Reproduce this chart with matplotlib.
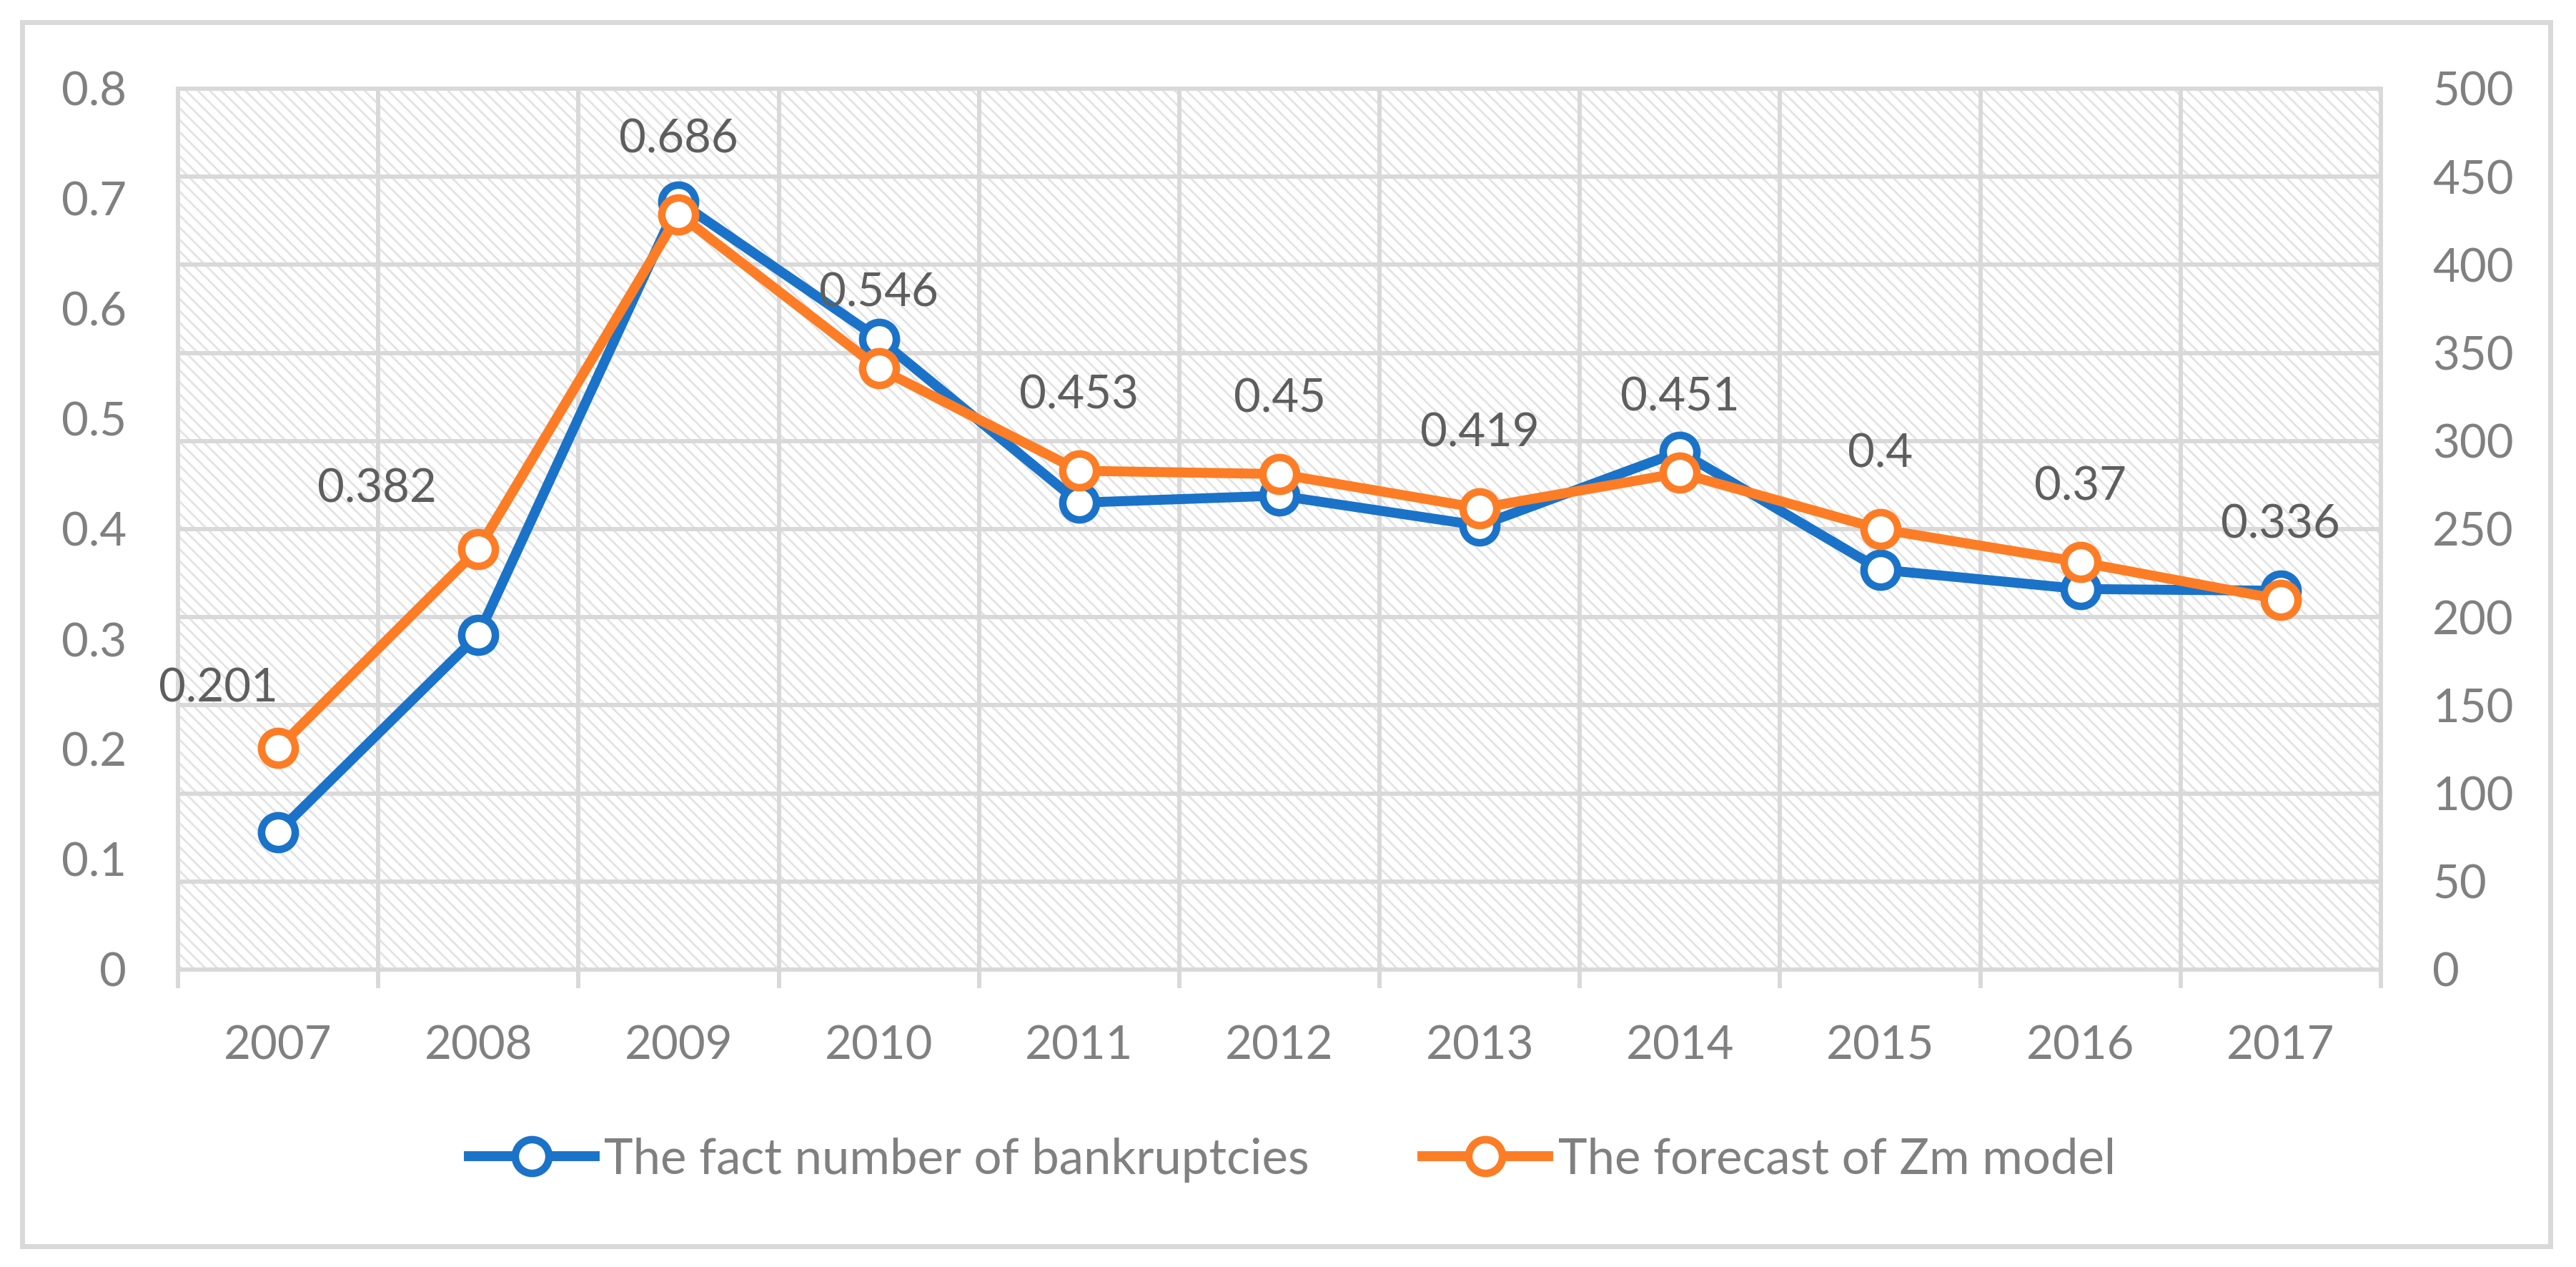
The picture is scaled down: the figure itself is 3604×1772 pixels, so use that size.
import numpy as np
import matplotlib
matplotlib.use("Agg")
import matplotlib.pyplot as plt
from matplotlib.patches import Rectangle

# ---- data ----
years = ["2007", "2008", "2009", "2010", "2011", "2012", "2013", "2014", "2015", "2016", "2017"]
fact_bankruptcies = [78, 190, 436, 358, 265, 269, 252, 294, 227, 216, 215]
forecast_zm = [0.201, 0.382, 0.686, 0.546, 0.453, 0.45, 0.419, 0.451, 0.4, 0.37, 0.336]
forecast_labels = ["0.201", "0.382", "0.686", "0.546", "0.453", "0.45", "0.419", "0.451", "0.4", "0.37", "0.336"]
left_ticks = [0, 0.1, 0.2, 0.3, 0.4, 0.5, 0.6, 0.7, 0.8]
left_tick_labels = ["0", "0.1", "0.2", "0.3", "0.4", "0.5", "0.6", "0.7", "0.8"]
right_ticks = [0, 50, 100, 150, 200, 250, 300, 350, 400, 450, 500]
series_names = ["The fact number of bankruptcies", "The forecast of Zm model"]

# ---- style ----
DPI = 200
W, H = 3605, 1772
FS = 23.5
FS_LEG = 24.8
FONT = ["Lato", "DejaVu Sans"]
plt.rcParams["font.family"] = FONT
plt.rcParams["hatch.linewidth"] = 1.0
BLUE = "#1A73C8"
ORANGE = "#FC7D26"
GRID = "#D9D9D9"
TICK_C = "#808080"
LABEL_C = "#5E5E5E"
GLW = 2.16
LW = 5.0
MS = 17.0
MEW = 3.8

fig = plt.figure(figsize=(W / DPI, H / DPI), dpi=DPI)
fig.patch.set_facecolor("white")

# outer chart border
fig.patches.append(Rectangle((31 / W, 1 - 1743 / H), (3568 - 31) / W, (1743 - 31) / H,
                             transform=fig.transFigure, fill=False,
                             edgecolor=GRID, linewidth=2.5, zorder=0))

left, right, top, bottom = 249, 3331, 124, 1356
ax = fig.add_axes([left / W, 1 - bottom / H, (right - left) / W, (bottom - top) / H])
x = np.arange(len(years))

# hatched plot area
ax.patch.set_facecolor("white")
ax.patch.set_hatch("\\\\\\\\")
ax.patch.set_edgecolor("#E3E3E3")
ax.patch.set_linewidth(0)

ax2 = ax.twinx()

# primary axis: blue, scale on right (gridlines follow it)
ax.set_xlim(-0.5, len(years) - 0.5)
ax.set_ylim(0, 500)
ax.set_yticks(right_ticks)
ax.set_yticklabels([str(t) for t in right_ticks])
ax.yaxis.set_ticks_position("right")
ax.yaxis.set_label_position("right")
ax.tick_params(axis="y", which="both", left=False, labelleft=False, right=True, labelright=True,
               length=0, pad=26, labelsize=FS, labelcolor=TICK_C)
ax.set_xticks(x)
ax.set_xticklabels(years)
ax.set_xticks(np.arange(-0.5, len(years), 1.0), minor=True)
ax.tick_params(axis="x", which="major", length=0, pad=28, labelsize=FS, labelcolor=TICK_C)
ax.tick_params(axis="x", which="minor", length=9.4, width=GLW, color=GRID, direction="out")
ax.grid(axis="y", which="major", color=GRID, linewidth=GLW)
ax.grid(axis="x", which="minor", color=GRID, linewidth=GLW)
ax.set_axisbelow(True)
for s in ax.spines.values():
    s.set_color(GRID)
    s.set_linewidth(GLW)

ax.plot(x, fact_bankruptcies, color=BLUE, linewidth=LW, marker="o", markersize=MS,
        markerfacecolor="white", markeredgecolor=BLUE, markeredgewidth=MEW,
        solid_joinstyle="round", label=series_names[0], zorder=3)

# secondary axis: orange, scale on left
ax2.set_ylim(0, 0.8)
ax2.set_yticks(left_ticks)
ax2.set_yticklabels(left_tick_labels)
ax2.yaxis.set_ticks_position("left")
ax2.yaxis.set_label_position("left")
ax2.tick_params(axis="y", which="both", right=False, labelright=False, left=True, labelleft=True,
                length=0, pad=26, labelsize=FS, labelcolor=TICK_C)
for s in ax2.spines.values():
    s.set_visible(False)

ax2.plot(x, forecast_zm, color=ORANGE, linewidth=LW, marker="o", markersize=MS,
         markerfacecolor="white", markeredgecolor=ORANGE, markeredgewidth=MEW,
         solid_joinstyle="round", label=series_names[1], zorder=3)

# data labels (offsets in points)
offsets = [(-30, 30), (-51, 30)] + [(0, 37.8)] * (len(years) - 2)
for xi, yi, lab, off in zip(x, forecast_zm, forecast_labels, offsets):
    ax2.annotate(lab, (xi, yi), xytext=off, textcoords="offset points",
                 ha="center", va="center", fontsize=FS, color=LABEL_C, zorder=5)

# legend
h1, l1 = ax.get_legend_handles_labels()
h2, l2 = ax2.get_legend_handles_labels()
fig.legend(h1 + h2, l1 + l2, loc="center", bbox_to_anchor=(0.5015, 1 - 1622 / H),
           ncol=2, frameon=False, fontsize=FS_LEG, labelcolor=TICK_C,
           handlelength=2.55, handletextpad=0.2, columnspacing=2.3)

fig.savefig("out.png", dpi=DPI, facecolor="white")
